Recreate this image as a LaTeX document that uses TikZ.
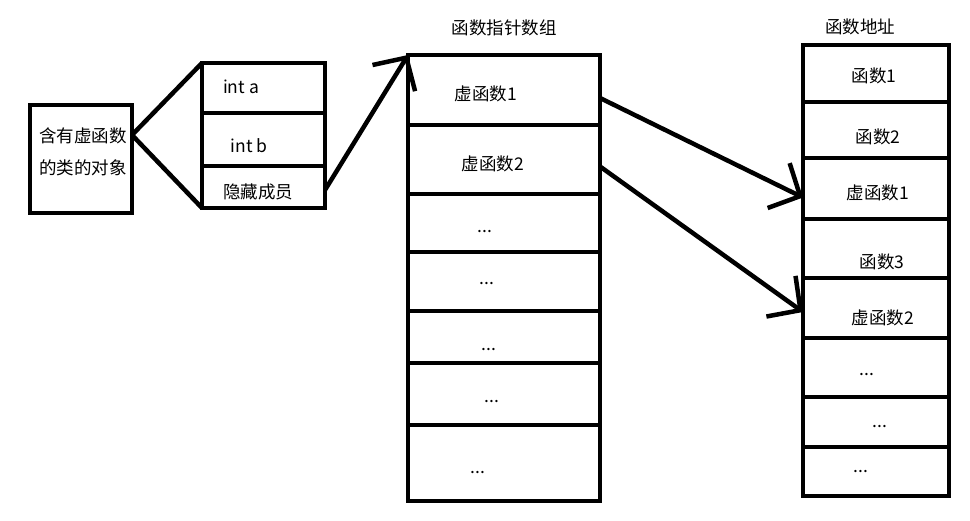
\documentclass[tikz,border=0pt]{standalone}
\usepackage{fontspec}
\setmainfont{Noto Sans CJK SC}
\usetikzlibrary{arrows.meta}
\begin{document}
\begin{tikzpicture}[x=1pt,y=-1pt,
  cell/.style={draw, line width=4.5pt, rectangle, inner sep=0pt, outer sep=0pt},
  txt/.style={inner sep=0pt, font=\fontsize{17.5pt}{20pt}\selectfont},
  dots/.style={inner sep=0pt, anchor=base, font=\fontsize{17.5pt}{20pt}\selectfont},
  link/.style={line width=4.5pt, -{Straight Barb[length=24pt,width=50pt]}},
  plainline/.style={line width=4.5pt}]
\useasboundingbox (0,0) rectangle (970,520);

% object
\node[cell, minimum width=102pt, minimum height=108pt] (obj) at (81,159) {};
\node[txt] (objt1) at (83,136) {含有虚函数};
\node[txt] (objt2) at (83,168) {的类的对象};

% members
\node[cell, minimum width=123pt, minimum height=50pt] (m1) at (263.5,88) {};
\node[cell, minimum width=123pt, minimum height=53pt] (m2) at (263.5,139.5) {};
\node[cell, minimum width=123pt, minimum height=42pt] (m3) at (263.5,187) {};
\node[txt] (m1t) at (241,87) {int a};
\node[txt] (m2t) at (249,146) {int b};
\node[txt] (m3t) at (258,192) {隐藏成员};

\coordinate (apex) at ([yshift=-30pt]obj.north east);
\draw[plainline] (apex) -- (m1.north west);
\draw[plainline] (apex) -- (m3.south west);

% function pointer array
\node[txt] (atitle) at (504,28) {函数指针数组};
\node[cell, minimum width=192pt, minimum height=70pt] (a1) at (504,90) {};
\node[cell, minimum width=192pt, minimum height=69pt] (a2) at (504,159.5) {};
\node[cell, minimum width=192pt, minimum height=58pt] (a3) at (504,223) {};
\node[cell, minimum width=192pt, minimum height=59pt] (a4) at (504,281.5) {};
\node[cell, minimum width=192pt, minimum height=52pt] (a5) at (504,337) {};
\node[cell, minimum width=192pt, minimum height=62pt] (a6) at (504,394) {};
\node[cell, minimum width=192pt, minimum height=76pt] (a7) at (504,463) {};
\node[txt] (a1t) at (486,94) {虚函数1};
\node[txt] (a2t) at (493,164) {虚函数2};
\node[dots] (a3t) at (485,232) {...};
\node[dots] (a4t) at (487,284) {...};
\node[dots] (a5t) at (489,350) {...};
\node[dots] (a6t) at (492,402) {...};
\node[dots] (a7t) at (478,473) {...};

% function addresses
\node[txt] (rtitle) at (860,27) {函数地址};
\node[cell, minimum width=146pt, minimum height=57pt] (r1) at (876,73.5) {};
\node[cell, minimum width=146pt, minimum height=56pt] (r2) at (876,130) {};
\node[cell, minimum width=146pt, minimum height=61pt] (r3) at (876,188.5) {};
\node[cell, minimum width=146pt, minimum height=59pt] (r4) at (876,248.5) {};
\node[cell, minimum width=146pt, minimum height=60pt] (r5) at (876,308) {};
\node[cell, minimum width=146pt, minimum height=59pt] (r6) at (876,367.5) {};
\node[cell, minimum width=146pt, minimum height=50pt] (r7) at (876,422) {};
\node[cell, minimum width=146pt, minimum height=49pt] (r8) at (876,471.5) {};
\node[txt] (r1t) at (874,76) {函数1};
\node[txt] (r2t) at (878,137) {函数2};
\node[txt] (r3t) at (878,193) {虚函数1};
\node[txt] (r4t) at (882,262) {函数3};
\node[txt] (r5t) at (883,318) {虚函数2};
\node[dots] (r6t) at (867,375) {...};
\node[dots] (r7t) at (880,427) {...};
\node[dots] (r8t) at (861,472) {...};

% arrows
\draw[link] ([yshift=-3pt]m3.east) -- (a1.north west);
\draw[link] ([yshift=-8pt]a1.east) -- ([yshift=-9pt]r3.west);
\draw[link] ([yshift=-7pt]a2.east) -- ([yshift=-4pt]r5.west);
\end{tikzpicture}
\end{document}
